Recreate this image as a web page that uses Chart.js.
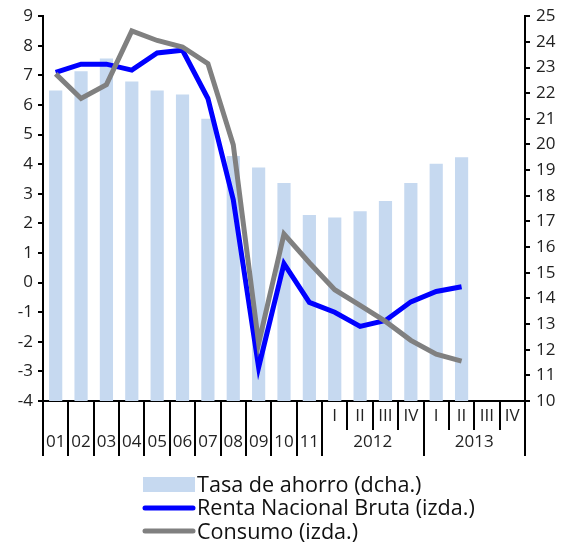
<!DOCTYPE html>
<html>
<head>
<meta charset="utf-8">
<script src="https://cdn.jsdelivr.net/npm/chart.js@4/dist/chart.umd.min.js"></script>
<style>
  html, body { margin: 0; padding: 0; background: #fff; }
  #wrap { width: 575px; height: 549px; position: relative; }
</style>
</head>
<body>
<div id="wrap"><canvas id="ahorro"></canvas></div>
<script>
// categories: years 2001-2011, then quarters of 2012 and 2013
var categorias = ['01','02','03','04','05','06','07','08','09','10','11','I','II','III','IV','I','II','III','IV'];
var grupos = [
    { label: '2012', from: 11, to: 14 },
    { label: '2013', from: 15, to: 18 }
];

// Tasa de ahorro (dcha.)
var tasaAhorro = [22.1, 22.85, 23.35, 22.45, 22.1, 21.95, 21.0, 19.55, 19.1, 18.5, 17.25,
                  17.15, 17.4, 17.8, 18.5, 19.25, 19.5, null, null];
// Renta Nacional Bruta (izda.)
var renta = [7.1, 7.38, 7.38, 7.18, 7.76, 7.85, 6.22, 2.8, -2.86, 0.64, -0.67,
             -1.0, -1.48, -1.28, -0.65, -0.3, -0.14, null, null];
// Consumo (izda.)
var consumo = [7.05, 6.22, 6.69, 8.5, 8.18, 7.96, 7.4, 4.66, -2.05, 1.64, 0.67,
               -0.24, -0.77, -1.31, -1.95, -2.42, -2.65, null, null];

var FONT = "'Open Sans', 'DejaVu Sans', sans-serif";

// draws the two level category axis and the legend
var ejePlugin = {
    id: 'ejeX',
    afterDraw: function (chart) {
        var ctx = chart.ctx;
        var x = chart.scales.x;
        var bottom = chart.chartArea.bottom;
        var half = (x.getPixelForValue(1) - x.getPixelForValue(0)) / 2;

        ctx.save();
        ctx.strokeStyle = '#000';
        ctx.lineWidth = 2;
        ctx.fillStyle = '#222';
        ctx.textAlign = 'center';
        ctx.textBaseline = 'middle';
        ctx.font = '17px ' + FONT;

        for (var i = 0; i <= categorias.length; i++) {
            var px = Math.round(x.getPixelForValue(i) - half);
            var largo = i <= 11 || i === 15 || i === categorias.length;
            ctx.beginPath();
            ctx.moveTo(px, bottom);
            ctx.lineTo(px, bottom + (largo ? 55 : 29));
            ctx.stroke();
        }

        for (var j = 0; j < categorias.length; j++) {
            var cx = x.getPixelForValue(j);
            if (j < 11) {
                ctx.fillText(categorias[j], cx, bottom + 41);
            } else {
                ctx.fillText(categorias[j], cx, bottom + 15);
            }
        }
        grupos.forEach(function (g) {
            var gx = (x.getPixelForValue(g.from) + x.getPixelForValue(g.to)) / 2;
            ctx.fillText(g.label, gx, bottom + 41);
        });

        // legend
        var lx = 143, lw = 52;
        ctx.font = '21.6px ' + FONT;
        ctx.textAlign = 'left';
        ctx.textBaseline = 'alphabetic';
        ctx.fillStyle = '#c6d9f0';
        ctx.fillRect(lx, 477, lw, 15);
        ctx.fillStyle = '#111';
        ctx.fillText('Tasa de ahorro (dcha.)', lx + lw + 2, 492);

        ctx.lineCap = 'round';
        ctx.lineWidth = 5;
        ctx.strokeStyle = '#0000ff';
        ctx.beginPath(); ctx.moveTo(lx + 2, 508); ctx.lineTo(lx + lw - 2, 508); ctx.stroke();
        ctx.fillText('Renta Nacional Bruta (izda.)', lx + lw + 2, 515);

        ctx.strokeStyle = '#808080';
        ctx.beginPath(); ctx.moveTo(lx + 2, 531); ctx.lineTo(lx + lw - 2, 531); ctx.stroke();
        ctx.fillText('Consumo (izda.)', lx + lw + 2, 539);
        ctx.restore();
    }
};

var ctx = document.getElementById('ahorro');

var chart = new Chart(ctx, {
    plugins: [ejePlugin],
    type: 'bar',
    data: {
        labels: categorias,
        datasets: [{
            type: 'line',
            label: 'Consumo (izda.)',
            data: consumo,
            borderColor: '#808080',
            borderWidth: 5,
            pointRadius: 0,
            tension: 0,
            yAxisID: 'y',
            order: 1
        }, {
            type: 'line',
            label: 'Renta Nacional Bruta (izda.)',
            data: renta,
            borderColor: '#0000ff',
            borderWidth: 5,
            pointRadius: 0,
            tension: 0,
            yAxisID: 'y',
            order: 2
        }, {
            label: 'Tasa de ahorro (dcha.)',
            data: tasaAhorro,
            backgroundColor: '#c6d9f0',
            barPercentage: 0.52,
            categoryPercentage: 1,
            yAxisID: 'y1',
            order: 3
        }]
    },
    options: {
        responsive: true,
        maintainAspectRatio: false,
        animation: false,
        layout: { padding: { top: 14, left: 0, right: 0, bottom: 0 } },
        plugins: {
            legend: { display: false },
            tooltip: { enabled: false }
        },
        scales: {
            x: {
                grid: { display: false },
                border: { display: true, color: '#000', width: 2 },
                ticks: { display: false },
                afterFit: function (s) { s.height = 148; }
            },
            y: {
                position: 'left',
                min: -4,
                max: 9,
                ticks: { stepSize: 1, color: '#222', padding: 5, font: { family: FONT, size: 17 } },
                grid: { drawOnChartArea: false, tickLength: 5, color: '#000', lineWidth: 2 },
                border: { color: '#000', width: 2 },
                afterFit: function (s) { s.width = 43; }
            },
            y1: {
                position: 'right',
                min: 10,
                max: 25,
                ticks: { stepSize: 1, color: '#222', padding: 6, font: { family: FONT, size: 17 } },
                grid: { drawOnChartArea: false, tickLength: 5, color: '#000', lineWidth: 2 },
                border: { color: '#000', width: 2 },
                afterFit: function (s) { s.width = 50; }
            }
        }
    }
});
</script>
</body>
</html>
